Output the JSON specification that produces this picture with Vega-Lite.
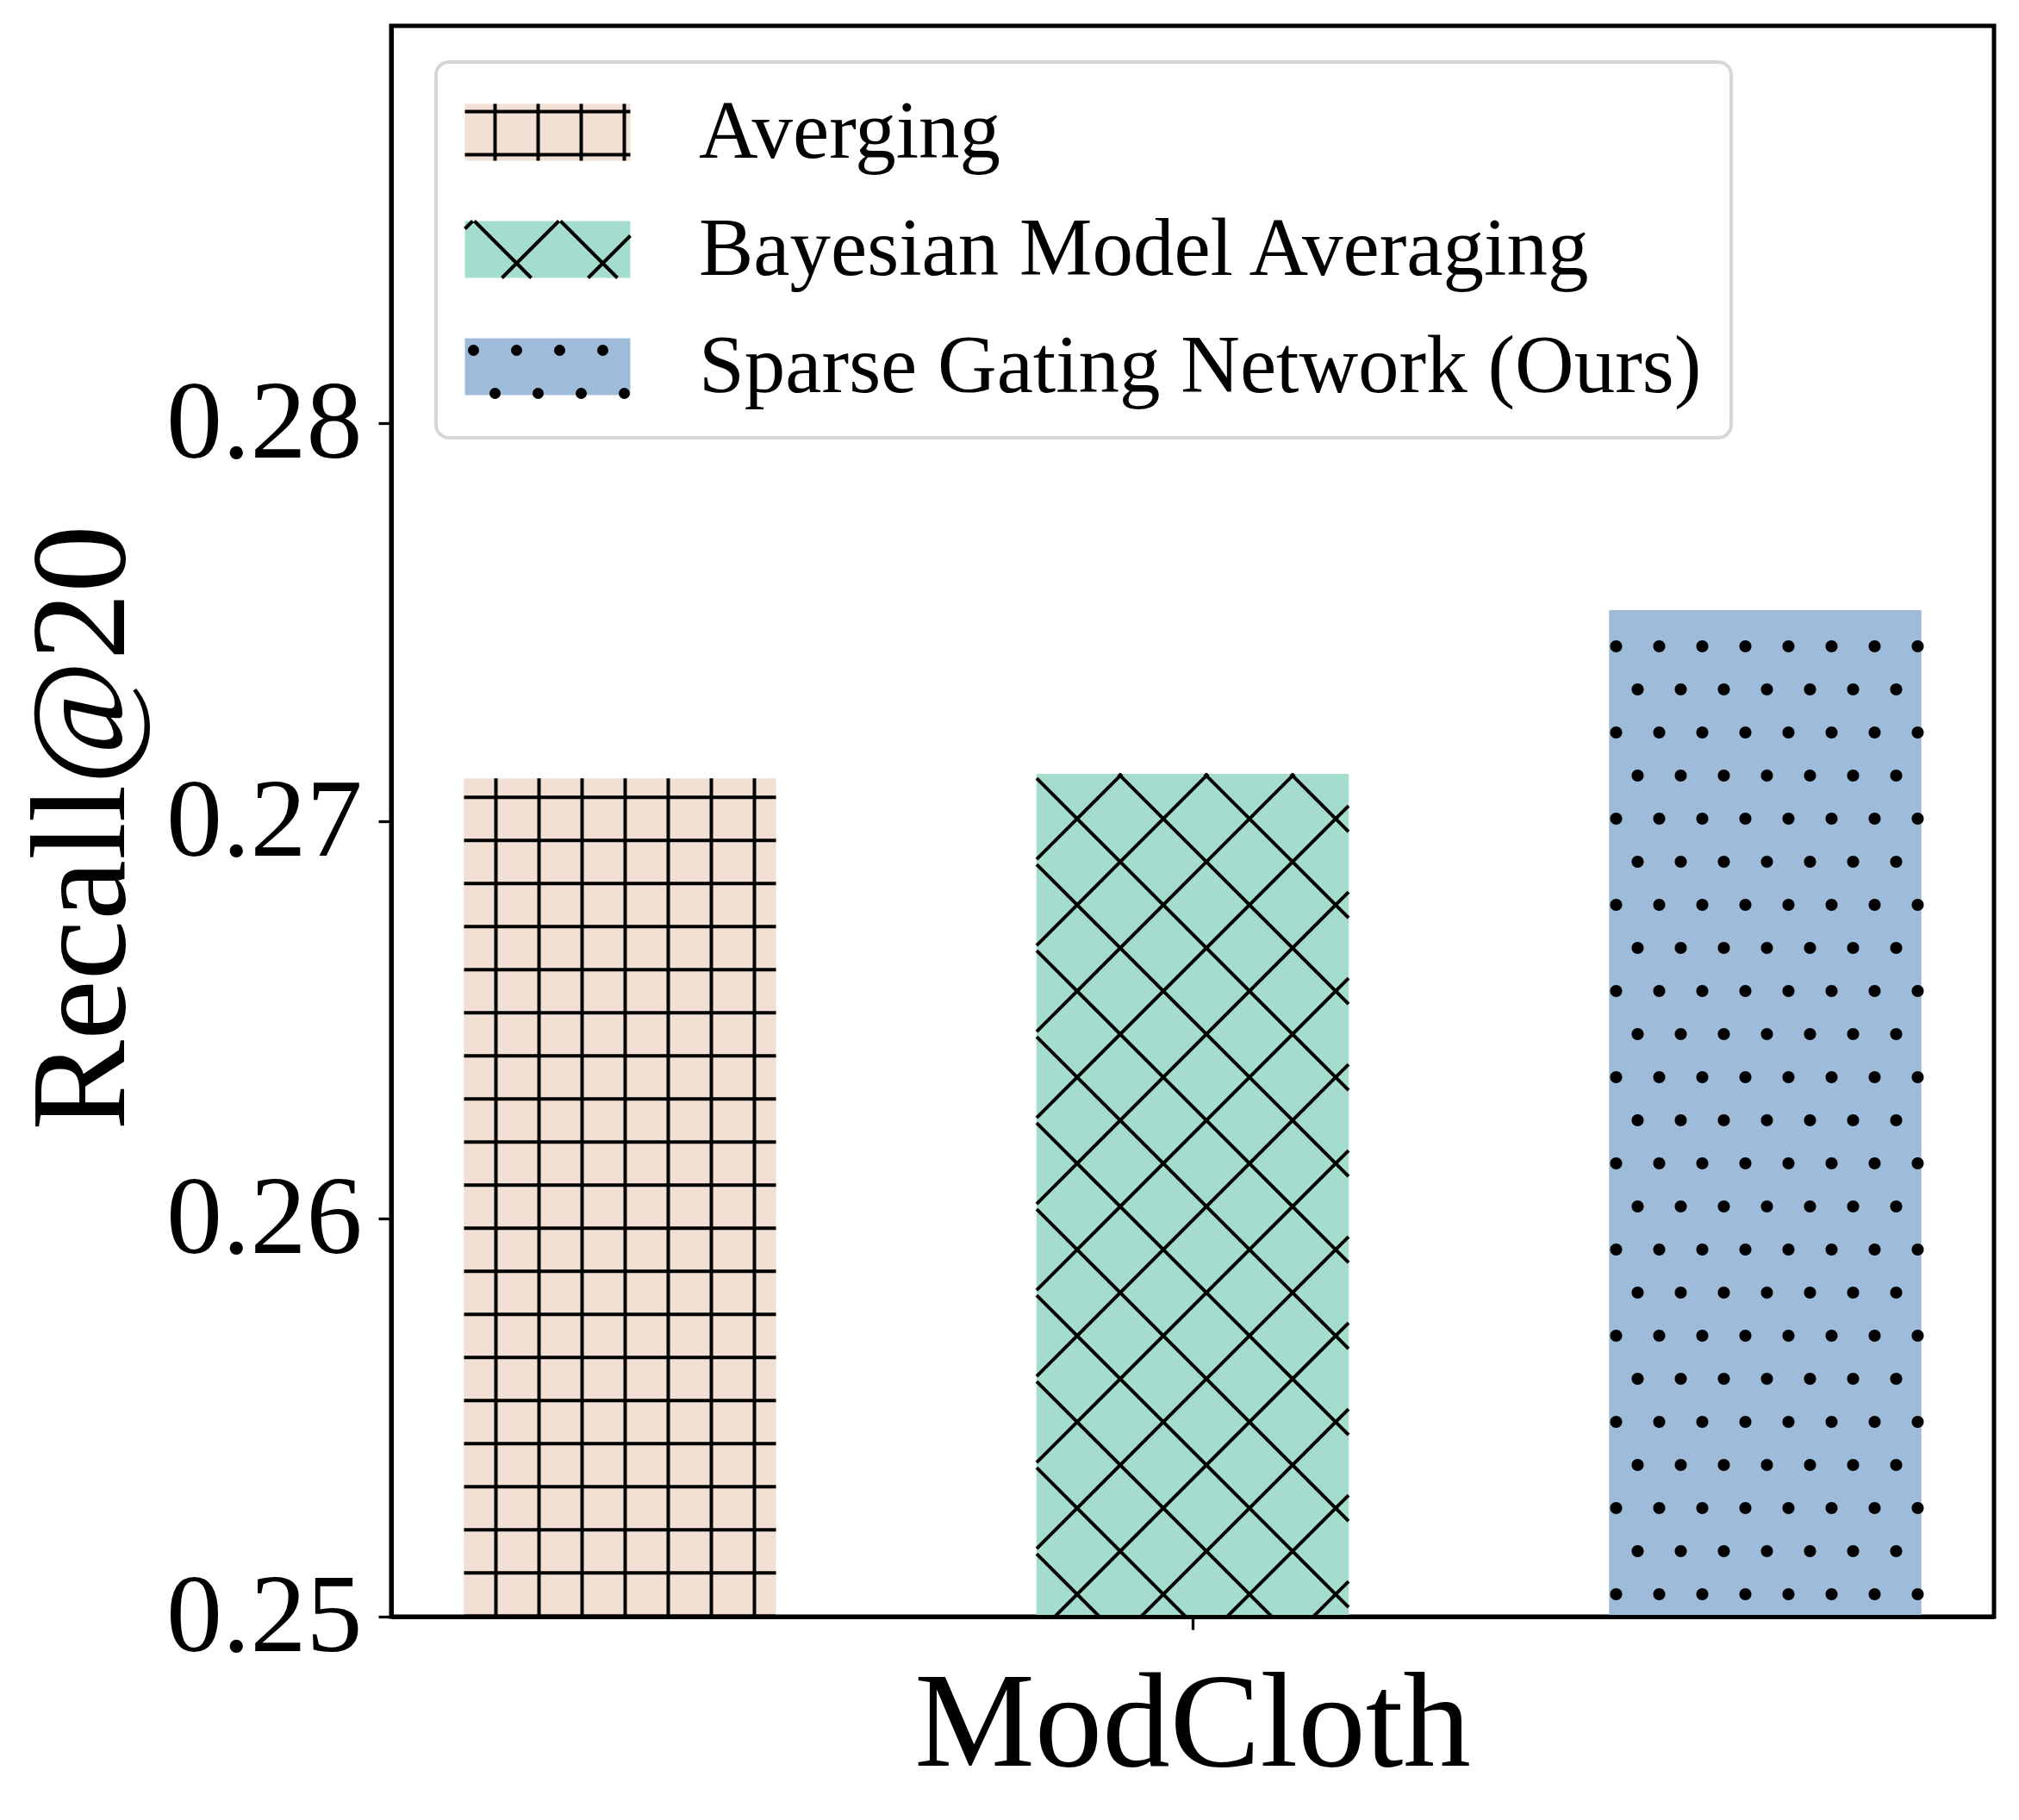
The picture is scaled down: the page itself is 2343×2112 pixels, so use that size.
{
  "$schema": "https://vega.github.io/schema/vega-lite/v6.json",
  "width": 1860,
  "height": 1846,
  "autosize": {"type": "none"},
  "padding": {"left": 454, "top": 30, "right": 29, "bottom": 236},
  "background": "white",
  "config": {
    "font": "Liberation Serif",
    "view": {"stroke": "black", "strokeWidth": 5}
  },
  "data": {
    "values": [
      {"dataset": "ModCloth", "method": "Averging", "recall": 0.27108},
      {"dataset": "ModCloth", "method": "Bayesian Model Averaging", "recall": 0.27119},
      {"dataset": "ModCloth", "method": "Sparse Gating Network (Ours)", "recall": 0.27531}
    ]
  },
  "encoding": {
    "x": {
      "field": "dataset",
      "type": "nominal",
      "scale": {"paddingInner": 0, "paddingOuter": 0},
      "axis": {
        "title": null,
        "labelAngle": 0,
        "labelFont": "Liberation Serif",
        "labelFontSize": 157,
        "labelColor": "black",
        "labelPadding": 33,
        "labelLimit": 3000,
        "labelFlush": false,
        "tickSize": 15,
        "tickWidth": 3.3,
        "tickColor": "black",
        "domain": true,
        "domainColor": "black",
        "domainWidth": 5,
        "zindex": 1
      }
    },
    "xOffset": {
      "field": "method",
      "type": "nominal",
      "scale": {"paddingInner": 0.4545, "paddingOuter": 0.1268}
    },
    "y": {
      "field": "recall",
      "type": "quantitative",
      "scale": {"domain": [0.25, 0.29], "zero": false, "nice": false},
      "axis": {
        "title": "Recall@20",
        "titleFont": "Liberation Serif",
        "titleFontSize": 157,
        "titleFontWeight": "normal",
        "titleColor": "black",
        "titleX": -278,
        "titleY": 930,
        "titleAngle": -90,
        "titleAlign": "center",
        "titleBaseline": "bottom",
        "values": [0.25, 0.26, 0.27, 0.28],
        "format": ".2f",
        "grid": false,
        "labelFont": "Liberation Serif",
        "labelFontSize": 130,
        "labelColor": "black",
        "labelPadding": 19,
        "labelLimit": 3000,
        "labelFlush": false,
        "labelOverlap": false,
        "tickSize": 15,
        "tickWidth": 3.3,
        "tickColor": "black",
        "domain": true,
        "domainColor": "black",
        "domainWidth": 5,
        "zindex": 1
      }
    }
  },
  "layer": [
    {
      "mark": {"type": "bar", "clip": true},
      "encoding": {
        "y2": {"datum": 0.25},
        "color": {
          "field": "method",
          "type": "nominal",
          "scale": {
            "domain": ["Averging", "Bayesian Model Averaging", "Sparse Gating Network (Ours)"],
            "range": ["#f2e0d5", "#a4dccd", "#9fbbda"]
          },
          "legend": {
            "title": null,
            "orient": "none",
            "legendX": 52,
            "legendY": 42,
            "padding": 34,
            "rowPadding": 40,
            "labelOffset": 176,
            "symbolOffset": 0,
            "symbolSize": 4,
            "symbolType": "M-48,-33H144V33H-48Z",
            "symbolStrokeColor": "transparent",
            "symbolStrokeWidth": 0,
            "labelFont": "Liberation Serif",
            "labelFontSize": 95,
            "labelColor": "black",
            "labelLimit": 3000,
            "fillColor": "white",
            "strokeColor": "#d6d6d6",
            "cornerRadius": 15,
            "zindex": 1,
            "encode": {"legend": {"update": {"strokeWidth": {"value": 4}}}}
          }
        }
      }
    },
    {
      "transform": [{"filter": "datum.method === 'Averging'"}],
      "mark": {
        "type": "point",
        "clip": true,
        "size": 4,
        "filled": false,
        "color": "black",
        "opacity": 1,
        "strokeWidth": 4,
        "shape": "M-144,0V980M-94,0V980M-44,0V980M6,0V980M56,0V980M106,0V980M156,0V980M-181,22H181M-181,72H181M-181,122H181M-181,172H181M-181,222H181M-181,272H181M-181,322H181M-181,372H181M-181,422H181M-181,472H181M-181,522H181M-181,572H181M-181,622H181M-181,672H181M-181,722H181M-181,772H181M-181,822H181M-181,872H181M-181,922H181M-181,972H181"
      }
    },
    {
      "transform": [{"filter": "datum.method === 'Bayesian Model Averaging'"}],
      "mark": {
        "type": "point",
        "clip": true,
        "size": 4,
        "filled": false,
        "color": "black",
        "opacity": 1,
        "strokeWidth": 4,
        "shape": "M114,0L181,67M14,0L181,167M-86,0L181,267M-181,5L181,367M-181,105L181,467M-181,205L181,567M-181,305L181,667M-181,405L181,767M-181,505L181,867M-181,605L181,967M-181,705L181,1067M-181,805L181,1167M-181,905L181,1267M-181,99L-82,0M-181,199L18,0M-181,299L118,0M-181,399L181,37M-181,499L181,137M-181,599L181,237M-181,699L181,337M-181,799L181,437M-181,899L181,537M-181,999L181,637M-181,1099L181,737M-181,1199L181,837M-181,1299L181,937"
      }
    },
    {
      "transform": [{"filter": "datum.method === 'Sparse Gating Network (Ours)'"}],
      "mark": {
        "type": "point",
        "clip": true,
        "size": 4,
        "filled": true,
        "color": "black",
        "opacity": 1,
        "strokeWidth": 0,
        "shape": "M-180,42a7,7 0 1 0 14,0a7,7 0 1 0 -14,0m50,0a7,7 0 1 0 14,0a7,7 0 1 0 -14,0m50,0a7,7 0 1 0 14,0a7,7 0 1 0 -14,0m50,0a7,7 0 1 0 14,0a7,7 0 1 0 -14,0m50,0a7,7 0 1 0 14,0a7,7 0 1 0 -14,0m50,0a7,7 0 1 0 14,0a7,7 0 1 0 -14,0m50,0a7,7 0 1 0 14,0a7,7 0 1 0 -14,0m50,0a7,7 0 1 0 14,0a7,7 0 1 0 -14,0M-155,92a7,7 0 1 0 14,0a7,7 0 1 0 -14,0m50,0a7,7 0 1 0 14,0a7,7 0 1 0 -14,0m50,0a7,7 0 1 0 14,0a7,7 0 1 0 -14,0m50,0a7,7 0 1 0 14,0a7,7 0 1 0 -14,0m50,0a7,7 0 1 0 14,0a7,7 0 1 0 -14,0m50,0a7,7 0 1 0 14,0a7,7 0 1 0 -14,0m50,0a7,7 0 1 0 14,0a7,7 0 1 0 -14,0M-180,142a7,7 0 1 0 14,0a7,7 0 1 0 -14,0m50,0a7,7 0 1 0 14,0a7,7 0 1 0 -14,0m50,0a7,7 0 1 0 14,0a7,7 0 1 0 -14,0m50,0a7,7 0 1 0 14,0a7,7 0 1 0 -14,0m50,0a7,7 0 1 0 14,0a7,7 0 1 0 -14,0m50,0a7,7 0 1 0 14,0a7,7 0 1 0 -14,0m50,0a7,7 0 1 0 14,0a7,7 0 1 0 -14,0m50,0a7,7 0 1 0 14,0a7,7 0 1 0 -14,0M-155,192a7,7 0 1 0 14,0a7,7 0 1 0 -14,0m50,0a7,7 0 1 0 14,0a7,7 0 1 0 -14,0m50,0a7,7 0 1 0 14,0a7,7 0 1 0 -14,0m50,0a7,7 0 1 0 14,0a7,7 0 1 0 -14,0m50,0a7,7 0 1 0 14,0a7,7 0 1 0 -14,0m50,0a7,7 0 1 0 14,0a7,7 0 1 0 -14,0m50,0a7,7 0 1 0 14,0a7,7 0 1 0 -14,0M-180,242a7,7 0 1 0 14,0a7,7 0 1 0 -14,0m50,0a7,7 0 1 0 14,0a7,7 0 1 0 -14,0m50,0a7,7 0 1 0 14,0a7,7 0 1 0 -14,0m50,0a7,7 0 1 0 14,0a7,7 0 1 0 -14,0m50,0a7,7 0 1 0 14,0a7,7 0 1 0 -14,0m50,0a7,7 0 1 0 14,0a7,7 0 1 0 -14,0m50,0a7,7 0 1 0 14,0a7,7 0 1 0 -14,0m50,0a7,7 0 1 0 14,0a7,7 0 1 0 -14,0M-155,292a7,7 0 1 0 14,0a7,7 0 1 0 -14,0m50,0a7,7 0 1 0 14,0a7,7 0 1 0 -14,0m50,0a7,7 0 1 0 14,0a7,7 0 1 0 -14,0m50,0a7,7 0 1 0 14,0a7,7 0 1 0 -14,0m50,0a7,7 0 1 0 14,0a7,7 0 1 0 -14,0m50,0a7,7 0 1 0 14,0a7,7 0 1 0 -14,0m50,0a7,7 0 1 0 14,0a7,7 0 1 0 -14,0M-180,342a7,7 0 1 0 14,0a7,7 0 1 0 -14,0m50,0a7,7 0 1 0 14,0a7,7 0 1 0 -14,0m50,0a7,7 0 1 0 14,0a7,7 0 1 0 -14,0m50,0a7,7 0 1 0 14,0a7,7 0 1 0 -14,0m50,0a7,7 0 1 0 14,0a7,7 0 1 0 -14,0m50,0a7,7 0 1 0 14,0a7,7 0 1 0 -14,0m50,0a7,7 0 1 0 14,0a7,7 0 1 0 -14,0m50,0a7,7 0 1 0 14,0a7,7 0 1 0 -14,0M-155,392a7,7 0 1 0 14,0a7,7 0 1 0 -14,0m50,0a7,7 0 1 0 14,0a7,7 0 1 0 -14,0m50,0a7,7 0 1 0 14,0a7,7 0 1 0 -14,0m50,0a7,7 0 1 0 14,0a7,7 0 1 0 -14,0m50,0a7,7 0 1 0 14,0a7,7 0 1 0 -14,0m50,0a7,7 0 1 0 14,0a7,7 0 1 0 -14,0m50,0a7,7 0 1 0 14,0a7,7 0 1 0 -14,0M-180,442a7,7 0 1 0 14,0a7,7 0 1 0 -14,0m50,0a7,7 0 1 0 14,0a7,7 0 1 0 -14,0m50,0a7,7 0 1 0 14,0a7,7 0 1 0 -14,0m50,0a7,7 0 1 0 14,0a7,7 0 1 0 -14,0m50,0a7,7 0 1 0 14,0a7,7 0 1 0 -14,0m50,0a7,7 0 1 0 14,0a7,7 0 1 0 -14,0m50,0a7,7 0 1 0 14,0a7,7 0 1 0 -14,0m50,0a7,7 0 1 0 14,0a7,7 0 1 0 -14,0M-155,492a7,7 0 1 0 14,0a7,7 0 1 0 -14,0m50,0a7,7 0 1 0 14,0a7,7 0 1 0 -14,0m50,0a7,7 0 1 0 14,0a7,7 0 1 0 -14,0m50,0a7,7 0 1 0 14,0a7,7 0 1 0 -14,0m50,0a7,7 0 1 0 14,0a7,7 0 1 0 -14,0m50,0a7,7 0 1 0 14,0a7,7 0 1 0 -14,0m50,0a7,7 0 1 0 14,0a7,7 0 1 0 -14,0M-180,542a7,7 0 1 0 14,0a7,7 0 1 0 -14,0m50,0a7,7 0 1 0 14,0a7,7 0 1 0 -14,0m50,0a7,7 0 1 0 14,0a7,7 0 1 0 -14,0m50,0a7,7 0 1 0 14,0a7,7 0 1 0 -14,0m50,0a7,7 0 1 0 14,0a7,7 0 1 0 -14,0m50,0a7,7 0 1 0 14,0a7,7 0 1 0 -14,0m50,0a7,7 0 1 0 14,0a7,7 0 1 0 -14,0m50,0a7,7 0 1 0 14,0a7,7 0 1 0 -14,0M-155,592a7,7 0 1 0 14,0a7,7 0 1 0 -14,0m50,0a7,7 0 1 0 14,0a7,7 0 1 0 -14,0m50,0a7,7 0 1 0 14,0a7,7 0 1 0 -14,0m50,0a7,7 0 1 0 14,0a7,7 0 1 0 -14,0m50,0a7,7 0 1 0 14,0a7,7 0 1 0 -14,0m50,0a7,7 0 1 0 14,0a7,7 0 1 0 -14,0m50,0a7,7 0 1 0 14,0a7,7 0 1 0 -14,0M-180,642a7,7 0 1 0 14,0a7,7 0 1 0 -14,0m50,0a7,7 0 1 0 14,0a7,7 0 1 0 -14,0m50,0a7,7 0 1 0 14,0a7,7 0 1 0 -14,0m50,0a7,7 0 1 0 14,0a7,7 0 1 0 -14,0m50,0a7,7 0 1 0 14,0a7,7 0 1 0 -14,0m50,0a7,7 0 1 0 14,0a7,7 0 1 0 -14,0m50,0a7,7 0 1 0 14,0a7,7 0 1 0 -14,0m50,0a7,7 0 1 0 14,0a7,7 0 1 0 -14,0M-155,692a7,7 0 1 0 14,0a7,7 0 1 0 -14,0m50,0a7,7 0 1 0 14,0a7,7 0 1 0 -14,0m50,0a7,7 0 1 0 14,0a7,7 0 1 0 -14,0m50,0a7,7 0 1 0 14,0a7,7 0 1 0 -14,0m50,0a7,7 0 1 0 14,0a7,7 0 1 0 -14,0m50,0a7,7 0 1 0 14,0a7,7 0 1 0 -14,0m50,0a7,7 0 1 0 14,0a7,7 0 1 0 -14,0M-180,742a7,7 0 1 0 14,0a7,7 0 1 0 -14,0m50,0a7,7 0 1 0 14,0a7,7 0 1 0 -14,0m50,0a7,7 0 1 0 14,0a7,7 0 1 0 -14,0m50,0a7,7 0 1 0 14,0a7,7 0 1 0 -14,0m50,0a7,7 0 1 0 14,0a7,7 0 1 0 -14,0m50,0a7,7 0 1 0 14,0a7,7 0 1 0 -14,0m50,0a7,7 0 1 0 14,0a7,7 0 1 0 -14,0m50,0a7,7 0 1 0 14,0a7,7 0 1 0 -14,0M-155,792a7,7 0 1 0 14,0a7,7 0 1 0 -14,0m50,0a7,7 0 1 0 14,0a7,7 0 1 0 -14,0m50,0a7,7 0 1 0 14,0a7,7 0 1 0 -14,0m50,0a7,7 0 1 0 14,0a7,7 0 1 0 -14,0m50,0a7,7 0 1 0 14,0a7,7 0 1 0 -14,0m50,0a7,7 0 1 0 14,0a7,7 0 1 0 -14,0m50,0a7,7 0 1 0 14,0a7,7 0 1 0 -14,0M-180,842a7,7 0 1 0 14,0a7,7 0 1 0 -14,0m50,0a7,7 0 1 0 14,0a7,7 0 1 0 -14,0m50,0a7,7 0 1 0 14,0a7,7 0 1 0 -14,0m50,0a7,7 0 1 0 14,0a7,7 0 1 0 -14,0m50,0a7,7 0 1 0 14,0a7,7 0 1 0 -14,0m50,0a7,7 0 1 0 14,0a7,7 0 1 0 -14,0m50,0a7,7 0 1 0 14,0a7,7 0 1 0 -14,0m50,0a7,7 0 1 0 14,0a7,7 0 1 0 -14,0M-155,892a7,7 0 1 0 14,0a7,7 0 1 0 -14,0m50,0a7,7 0 1 0 14,0a7,7 0 1 0 -14,0m50,0a7,7 0 1 0 14,0a7,7 0 1 0 -14,0m50,0a7,7 0 1 0 14,0a7,7 0 1 0 -14,0m50,0a7,7 0 1 0 14,0a7,7 0 1 0 -14,0m50,0a7,7 0 1 0 14,0a7,7 0 1 0 -14,0m50,0a7,7 0 1 0 14,0a7,7 0 1 0 -14,0M-180,942a7,7 0 1 0 14,0a7,7 0 1 0 -14,0m50,0a7,7 0 1 0 14,0a7,7 0 1 0 -14,0m50,0a7,7 0 1 0 14,0a7,7 0 1 0 -14,0m50,0a7,7 0 1 0 14,0a7,7 0 1 0 -14,0m50,0a7,7 0 1 0 14,0a7,7 0 1 0 -14,0m50,0a7,7 0 1 0 14,0a7,7 0 1 0 -14,0m50,0a7,7 0 1 0 14,0a7,7 0 1 0 -14,0m50,0a7,7 0 1 0 14,0a7,7 0 1 0 -14,0M-155,992a7,7 0 1 0 14,0a7,7 0 1 0 -14,0m50,0a7,7 0 1 0 14,0a7,7 0 1 0 -14,0m50,0a7,7 0 1 0 14,0a7,7 0 1 0 -14,0m50,0a7,7 0 1 0 14,0a7,7 0 1 0 -14,0m50,0a7,7 0 1 0 14,0a7,7 0 1 0 -14,0m50,0a7,7 0 1 0 14,0a7,7 0 1 0 -14,0m50,0a7,7 0 1 0 14,0a7,7 0 1 0 -14,0M-180,1042a7,7 0 1 0 14,0a7,7 0 1 0 -14,0m50,0a7,7 0 1 0 14,0a7,7 0 1 0 -14,0m50,0a7,7 0 1 0 14,0a7,7 0 1 0 -14,0m50,0a7,7 0 1 0 14,0a7,7 0 1 0 -14,0m50,0a7,7 0 1 0 14,0a7,7 0 1 0 -14,0m50,0a7,7 0 1 0 14,0a7,7 0 1 0 -14,0m50,0a7,7 0 1 0 14,0a7,7 0 1 0 -14,0m50,0a7,7 0 1 0 14,0a7,7 0 1 0 -14,0M-155,1092a7,7 0 1 0 14,0a7,7 0 1 0 -14,0m50,0a7,7 0 1 0 14,0a7,7 0 1 0 -14,0m50,0a7,7 0 1 0 14,0a7,7 0 1 0 -14,0m50,0a7,7 0 1 0 14,0a7,7 0 1 0 -14,0m50,0a7,7 0 1 0 14,0a7,7 0 1 0 -14,0m50,0a7,7 0 1 0 14,0a7,7 0 1 0 -14,0m50,0a7,7 0 1 0 14,0a7,7 0 1 0 -14,0M-180,1142a7,7 0 1 0 14,0a7,7 0 1 0 -14,0m50,0a7,7 0 1 0 14,0a7,7 0 1 0 -14,0m50,0a7,7 0 1 0 14,0a7,7 0 1 0 -14,0m50,0a7,7 0 1 0 14,0a7,7 0 1 0 -14,0m50,0a7,7 0 1 0 14,0a7,7 0 1 0 -14,0m50,0a7,7 0 1 0 14,0a7,7 0 1 0 -14,0m50,0a7,7 0 1 0 14,0a7,7 0 1 0 -14,0m50,0a7,7 0 1 0 14,0a7,7 0 1 0 -14,0"
      }
    },
    {
      "mark": {
        "type": "point",
        "size": 0,
        "filled": false,
        "color": "black",
        "strokeWidth": 4,
        "opacity": 1
      },
      "encoding": {
        "shape": {
          "field": "method",
          "type": "nominal",
          "scale": {
            "range": [
              "M-13,-33V33M37,-33V33M87,-33V33M137,-33V33M-48,-24H144M-48,26H144",
              "M63,-33L129,33M-37,-33L29,33M-48,-24L-39,-33M-5,33L61,-33M95,33L144,-16",
              "M-40,-19a2,2 0 1 0 4,0a2,2 0 1 0 -4,0M-42.5,-19a4.5,4.5 0 1 0 9,0a4.5,4.5 0 1 0 -9,0M10,-19a2,2 0 1 0 4,0a2,2 0 1 0 -4,0M7.5,-19a4.5,4.5 0 1 0 9,0a4.5,4.5 0 1 0 -9,0M60,-19a2,2 0 1 0 4,0a2,2 0 1 0 -4,0M57.5,-19a4.5,4.5 0 1 0 9,0a4.5,4.5 0 1 0 -9,0M110,-19a2,2 0 1 0 4,0a2,2 0 1 0 -4,0M107.5,-19a4.5,4.5 0 1 0 9,0a4.5,4.5 0 1 0 -9,0M-15,31a2,2 0 1 0 4,0a2,2 0 1 0 -4,0M-17.5,31a4.5,4.5 0 1 0 9,0a4.5,4.5 0 1 0 -9,0M35,31a2,2 0 1 0 4,0a2,2 0 1 0 -4,0M32.5,31a4.5,4.5 0 1 0 9,0a4.5,4.5 0 1 0 -9,0M85,31a2,2 0 1 0 4,0a2,2 0 1 0 -4,0M82.5,31a4.5,4.5 0 1 0 9,0a4.5,4.5 0 1 0 -9,0M135,31a2,2 0 1 0 4,0a2,2 0 1 0 -4,0M132.5,31a4.5,4.5 0 1 0 9,0a4.5,4.5 0 1 0 -9,0"
            ]
          },
          "legend": {
            "title": null,
            "orient": "none",
            "legendX": 52,
            "legendY": 42,
            "padding": 34,
            "rowPadding": 40,
            "labelOffset": 176,
            "symbolOffset": 0,
            "symbolSize": 4,
            "symbolFillColor": "transparent",
            "symbolStrokeColor": "black",
            "symbolStrokeWidth": 4,
            "labelFont": "Liberation Serif",
            "labelFontSize": 95,
            "labelColor": "black",
            "labelOpacity": 0,
            "labelLimit": 3000,
            "zindex": 2
          }
        }
      }
    }
  ]
}
